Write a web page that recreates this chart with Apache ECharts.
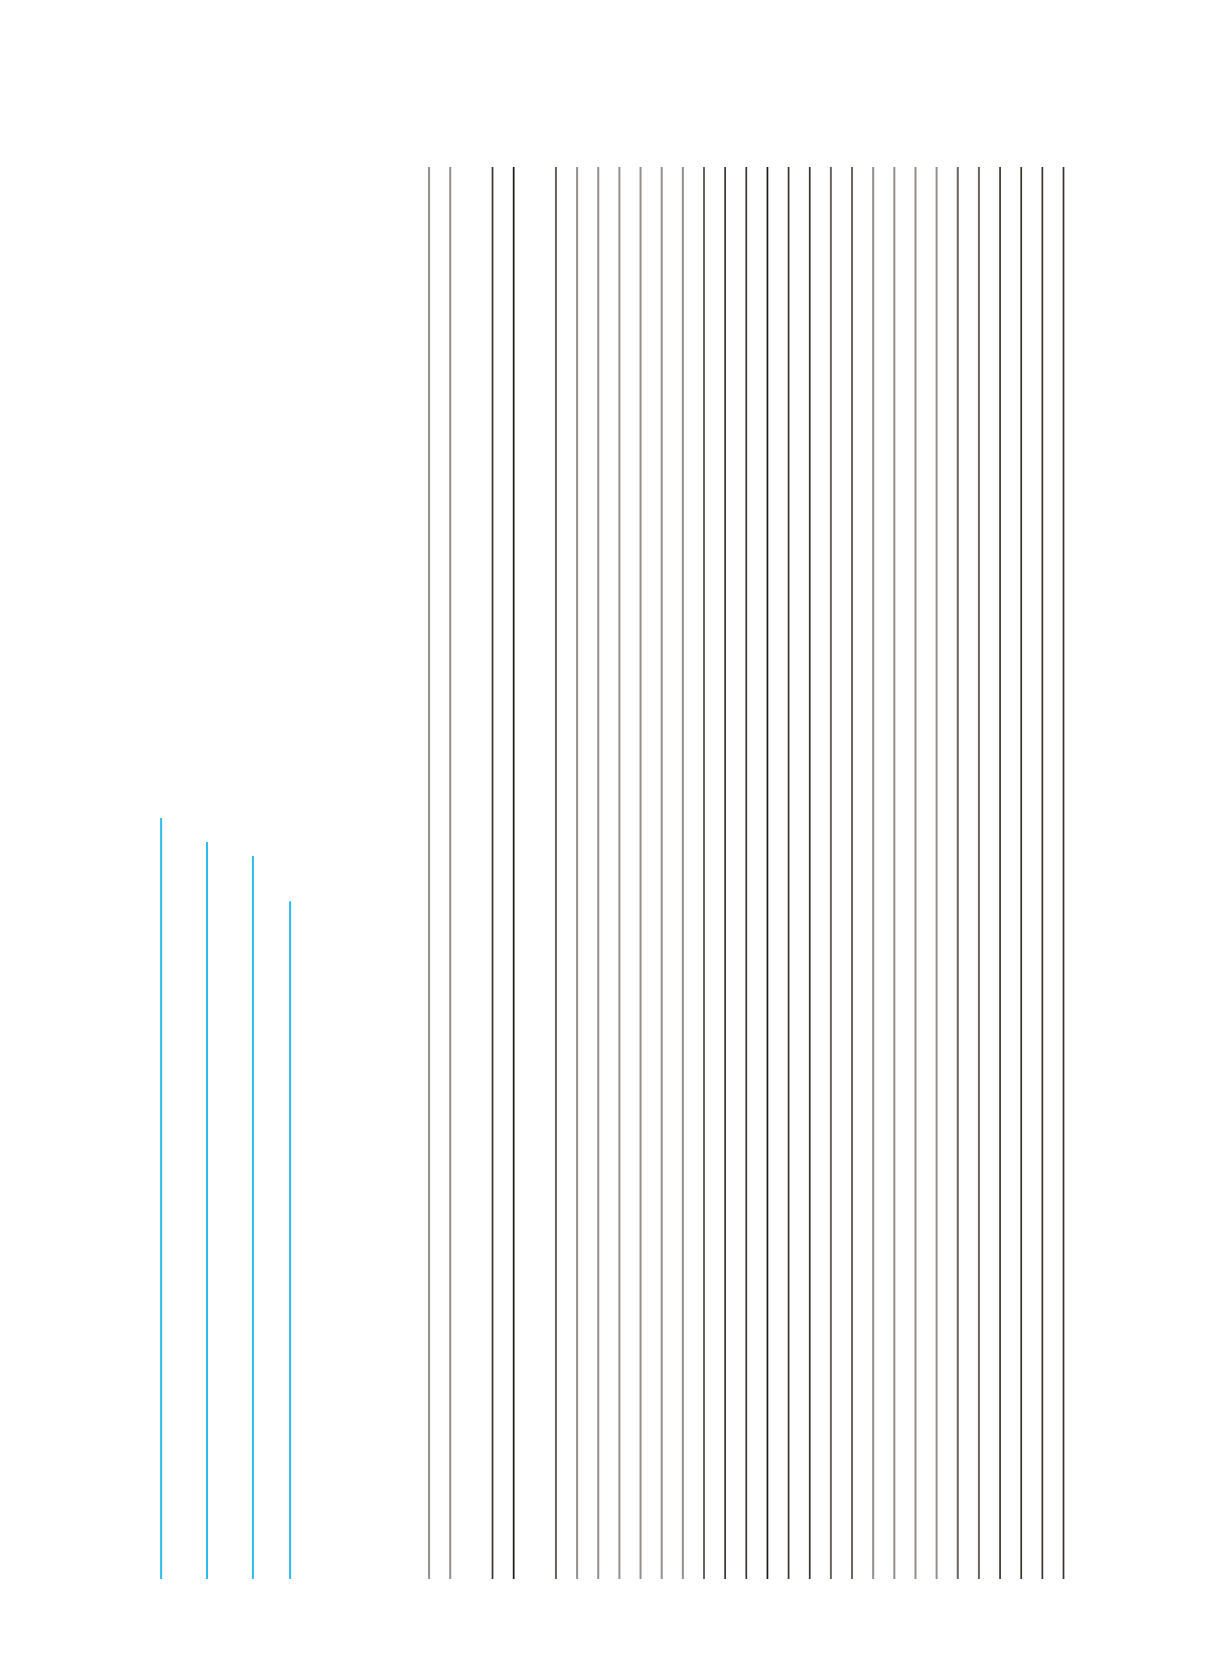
<!DOCTYPE html>
<html>
<head>
<meta charset="utf-8">
<script src="https://cdn.jsdelivr.net/npm/echarts@6/dist/echarts.min.js"></script>
<style>
html,body{margin:0;padding:0;background:#fff;}
#chart{width:1207px;height:1671px;}
</style>
</head>
<body>
<div id="chart"></div>
<script>
// Blue series: positions and values
var blueX = [1977.33, 1979.5, 1981.67, 1983.43];
var blueY = [53.9, 52.2, 51.2, 48.0];

// Gray series: positions and values
var grayX = [1990, 1991, 1993, 1994, 1996, 1997, 1998, 1999, 2000, 2001, 2002, 2003, 2004, 2005,
             2006, 2007, 2008, 2009, 2010, 2011, 2012, 2013, 2014, 2015, 2016, 2017, 2018, 2019, 2020];
var grayY = [100, 100, 100, 100, 100, 100, 100, 100, 100, 100, 100, 100, 100, 100,
             100, 100, 100, 100, 100, 100, 100, 100, 100, 100, 100, 100, 100, 100, 100];
// tone group of each gray line
var grayTone = ['light', 'light', 'dark', 'black', 'mid', 'light', 'light', 'light', 'light', 'light', 'light', 'mid', 'dark', 'dark',
                'black', 'dark', 'dark', 'mid', 'mid', 'light', 'light', 'light', 'light', 'mid', 'mid', 'dark', 'dark', 'dark', 'dark'];

var toneColor = { light: '#948f8a', mid: '#6a645e', dark: '#3a342e', black: '#1d1915' };

function lineItem(params, api) {
  var x = api.value(0), y = api.value(1);
  var top = api.coord([x, y]);
  var base = api.coord([x, 0]);
  var w = api.value(2);
  return {
    type: 'rect',
    shape: { x: top[0] - w / 2, y: top[1], width: w, height: base[1] - top[1] },
    style: { fill: api.visual('color') }
  };
}

var blueData = blueX.map(function (x, i) { return [x, blueY[i], 2]; });
var grayData = grayX.map(function (x, i) {
  var t = grayTone[i];
  return { value: [x, grayY[i], (t === 'dark' || t === 'black') ? 1.7 : 2], itemStyle: { color: toneColor[t] } };
});

var chart = echarts.init(document.getElementById('chart'), null, { renderer: 'canvas' });
chart.setOption({
  animation: false,
  backgroundColor: '#ffffff',
  grid: { left: 133, right: 16.6, top: 167, bottom: 92 },
  xAxis: { type: 'value', min: 1976, max: 2026, show: false },
  yAxis: { type: 'value', min: 0, max: 100, show: false },
  series: [
    { type: 'custom', name: 'blue', renderItem: lineItem, data: blueData,
      itemStyle: { color: '#2bbcec' }, encode: { x: 0, y: 1 } },
    { type: 'custom', name: 'gray', renderItem: lineItem, data: grayData,
      encode: { x: 0, y: 1 } }
  ]
});
</script>
</body>
</html>
